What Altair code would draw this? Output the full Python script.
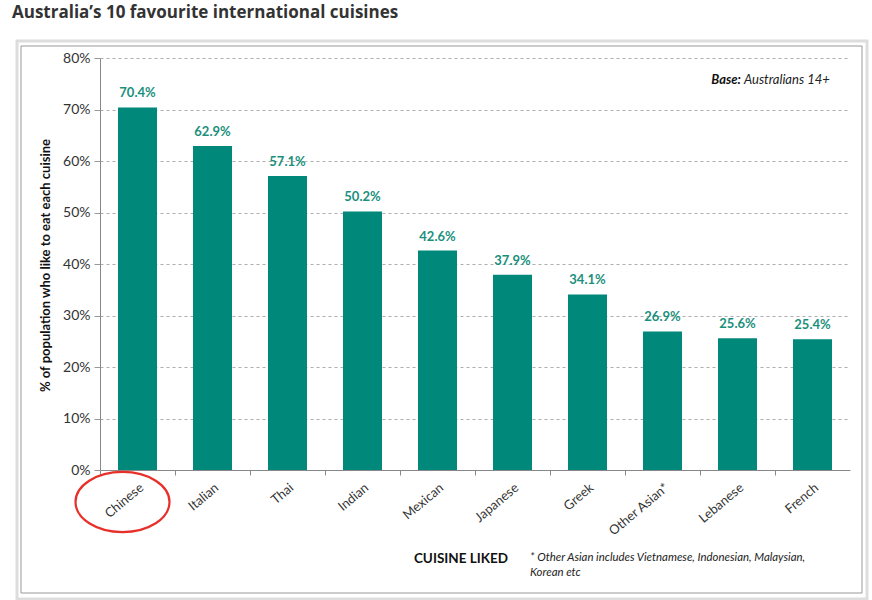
import altair as alt
import pandas as pd

cuisines = ["Chinese", "Italian", "Thai", "Indian", "Mexican",
            "Japanese", "Greek", "Other Asian*", "Lebanese", "French"]
shares = [70.4, 62.9, 57.1, 50.2, 42.6, 37.9, 34.1, 26.9, 25.6, 25.4]
y_ticks = [0, 10, 20, 30, 40, 50, 60, 70, 80]

title_text = "Australia\u2019s 10 favourite international cuisines"
y_title = "% of population who like to eat each cuisine"
x_title = "CUISINE LIKED"
note_lines = ["* Other Asian includes Vietnamese,  Indonesian,  Malaysian,", "Korean etc"]
base_bold = "Base:"
base_rest = "Australians  14+"
highlight = ["Chinese"]

df = pd.DataFrame({
    "cuisine": cuisines,
    "share": [v / 100 for v in shares],
    "label": [f"{v:.1f}%" for v in shares],
})

TEAL = "#00897B"
FONT = "Lato"
W, H = 750, 412

x_scale = alt.Scale(domain=cuisines, paddingInner=0.48, paddingOuter=0.24)
y_scale = alt.Scale(domain=[0, 0.8], nice=False)

x_enc = alt.X("cuisine:N", scale=x_scale, sort=cuisines,
              axis=alt.Axis(title=None, labelAngle=320, labelAlign="right",
                            labelBaseline="top", labelFont=FONT, labelFontSize=13,
                            labelColor="#333", labelPadding=6,
                            domainColor="#888", tickColor="#888", tickSize=5,
                            tickOffset=-37.5, labelOffset=37.5, grid=False))
y_enc = alt.Y("share:Q", scale=y_scale,
              axis=alt.Axis(values=[t / 100 for t in y_ticks], format=".0%",
                            title=y_title, titleFont=FONT, titleFontSize=13,
                            titleFontWeight="bold", titleColor="#111",
                            titleAngle=270, titleX=-55, titleY=207,
                            titleAlign="center", titleBaseline="middle",
                            labelFont=FONT, labelFontSize=14, labelColor="#333",
                            labelPadding=4,
                            domainColor="#888", tickColor="#999", tickSize=6,
                            gridColor="#999", gridDash=[3, 3], gridWidth=0.8))

bars = alt.Chart(df).mark_bar(color=TEAL).encode(x=x_enc, y=y_enc)

labels = alt.Chart(df).mark_text(
    font=FONT, fontSize=13, fontWeight="bold", color="#1a8f7c", dy=-14
).encode(x=alt.X("cuisine:N", scale=x_scale, sort=cuisines),
         y=alt.Y("share:Q", scale=y_scale), text="label:N")

ellipse_path = "M -1 0 A 1 0.64 0 1 0 1 0 A 1 0.64 0 1 0 -1 0 Z"
ellipse = alt.Chart(pd.DataFrame({"cuisine": highlight})).mark_point(
    shape=ellipse_path, size=94 * 94, filled=False, stroke="#e8302a",
    strokeWidth=2.2, opacity=1, xOffset=-15
).encode(x=alt.X("cuisine:N", scale=x_scale, sort=cuisines), y=alt.value(444))

def txt(text, x, y, **kw):
    return alt.Chart(pd.DataFrame({"t": [text]})).mark_text(**kw).encode(
        x=alt.value(x), y=alt.value(y), text="t:N")

title = txt(title_text, -88, -45, font="Open Sans", fontSize=17, fontWeight="bold",
            color="#333", align="left", baseline="middle")
xtitle = txt(x_title, 361, 501, font=FONT, fontSize=13.5, fontWeight="bold",
             color="#111", align="center", baseline="middle")
note1 = txt(note_lines[0], 430, 500, font=FONT, fontSize=11.4, fontStyle="italic",
            color="#222", align="left", baseline="middle")
note2 = txt(note_lines[1], 430, 515, font=FONT, fontSize=11.4, fontStyle="italic",
            color="#222", align="left", baseline="middle")
base1 = txt(base_bold, 641, 22, font=FONT, fontSize=13, fontWeight="bold",
            fontStyle="italic", color="#111", align="right", baseline="middle")
base2 = txt(base_rest, 644, 22, font=FONT, fontSize=13, fontStyle="italic",
            color="#222", align="left", baseline="middle")

outer_box = alt.Chart(pd.DataFrame({"a": [0]})).mark_rect(
    fill="transparent", stroke="#ddd", strokeWidth=3
).encode(x=alt.value(-83), x2=alt.value(767), y=alt.value(-17), y2=alt.value(541))
inner_box = alt.Chart(pd.DataFrame({"a": [0]})).mark_rect(
    fill="transparent", stroke="#999", strokeWidth=1
).encode(x=alt.value(-79), x2=alt.value(762), y=alt.value(-12), y2=alt.value(535))

chart = alt.layer(
    outer_box, inner_box, bars, labels, ellipse,
    title, xtitle, note1, note2, base1, base2
).properties(
    width=W, height=H,
    autosize=alt.AutoSizeParams(type="none"),
    padding={"left": 100, "top": 58, "right": 22, "bottom": 130},
    background="white",
).configure_view(strokeWidth=0)

chart.save("out.html", embed_options={"renderer": "svg", "actions": False})
